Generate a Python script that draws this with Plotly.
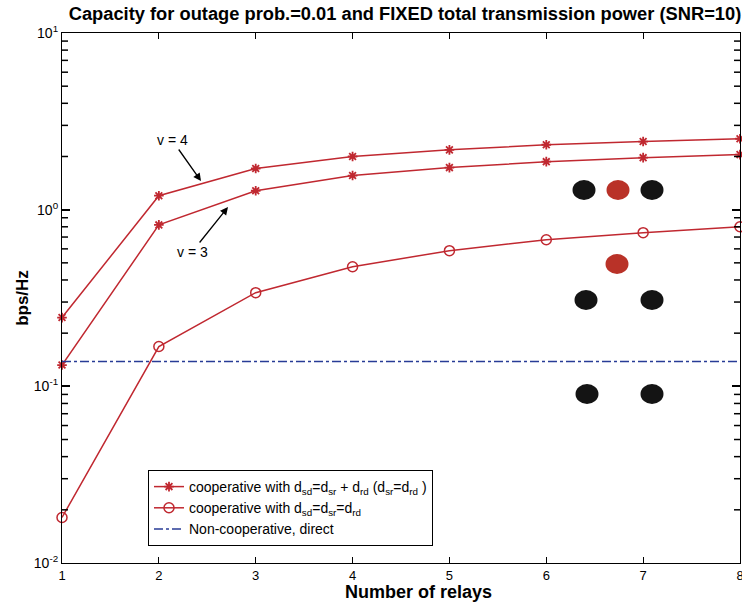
import math
import plotly.graph_objects as go

relays = [1, 2, 3, 4, 5, 6, 7, 8]
coop_v4 = [0.245, 1.20, 1.71, 2.00, 2.18, 2.33, 2.43, 2.52]
coop_v3 = [0.132, 0.82, 1.28, 1.56, 1.73, 1.87, 1.97, 2.05]
coop_equal = [0.0181, 0.168, 0.339, 0.475, 0.586, 0.676, 0.741, 0.80]
direct = [0.138] * 8

y_tickvals = [0.01, 0.1, 1, 10]
y_ticktext = ["10<sup>-2</sup>", "10<sup>-1</sup>", "10<sup>0</sup>", "10<sup>1</sup>"]
y_minor = [m * 10.0 ** e for e in (-2, -1, 0) for m in range(2, 10)]

RED = "rgb(192,40,48)"
BLUE = "rgb(40,60,150)"
FONT = "Liberation Sans, Arial, Helvetica, sans-serif"

fig = go.Figure()
fig.add_trace(go.Scatter(
    x=relays, y=coop_v4, mode="lines+markers",
    line=dict(color=RED, width=1.5),
    marker=dict(symbol="asterisk-open", size=8, color=RED, line=dict(color=RED, width=1.8)),
    name="cooperative with d<sub>sd</sub>=d<sub>sr</sub> + d<sub>rd</sub> (d<sub>sr</sub>=d<sub>rd</sub> )",
    cliponaxis=False,
))
fig.add_trace(go.Scatter(
    x=relays, y=coop_v3, mode="lines+markers",
    line=dict(color=RED, width=1.5),
    marker=dict(symbol="asterisk-open", size=8, color=RED, line=dict(color=RED, width=1.8)),
    showlegend=False, cliponaxis=False,
))
fig.add_trace(go.Scatter(
    x=relays, y=coop_equal, mode="lines+markers",
    line=dict(color=RED, width=1.5),
    marker=dict(symbol="circle-open", size=10, color=RED, line=dict(color=RED, width=1.5)),
    name="cooperative with d<sub>sd</sub>=d<sub>sr</sub>=d<sub>rd</sub>",
    cliponaxis=False,
))
fig.add_trace(go.Scatter(
    x=relays, y=direct, mode="lines",
    line=dict(color=BLUE, width=1.5, dash="dashdot"),
    name="Non-cooperative, direct",
))

# plot area in pixels: x 62..740, y 33..563
L, R, T, B = 62, 740, 33, 563
W, H = R - L, B - T
def px(x):
    return (x - L) / W
def py(y):
    return (B - y) / H

shapes = []
# minor ticks of the log axis, on both vertical sides (inside)
TL = 6.0
for v in y_minor:
    yp = (math.log10(v) + 2) / 3
    for x0, x1 in ((0.0, TL / W), (1.0 - TL / W, 1.0)):
        shapes.append(dict(type="line", xref="paper", yref="paper", x0=x0, x1=x1,
                           y0=yp, y1=yp, layer="above",
                           line=dict(color="black", width=1.5)))

# decorative node icons
nodes = [
    (584, 190, "rgb(20,20,20)"), (618, 190, "rgb(185,50,40)"), (652, 190, "rgb(20,20,20)"),
    (617, 264, "rgb(185,50,40)"),
    (586, 300, "rgb(20,20,20)"), (652, 300, "rgb(20,20,20)"),
    (587, 394, "rgb(20,20,20)"), (652, 394, "rgb(20,20,20)"),
]
for cx, cy, col in nodes:
    shapes.append(dict(type="circle", xref="paper", yref="paper",
                       x0=px(cx - 11.5), x1=px(cx + 11.5), y0=py(cy + 10), y1=py(cy - 10),
                       fillcolor=col, line=dict(width=0), layer="above"))

annotations = [
    dict(text="v = 4", xref="paper", yref="paper", x=px(201), y=py(181),
         ax=172 - 201, ay=140 - 181, showarrow=True, arrowhead=2, arrowsize=1.2,
         arrowwidth=1.3, arrowcolor="black", font=dict(size=14, color="black", family=FONT)),
    dict(text="v = 3", xref="paper", yref="paper", x=px(228), y=py(207),
         ax=192 - 228, ay=252 - 207, showarrow=True, arrowhead=2, arrowsize=1.2,
         arrowwidth=1.3, arrowcolor="black", font=dict(size=14, color="black", family=FONT)),
    dict(text="<b>Number of relays</b>", xref="paper", yref="paper", x=px(418), y=py(592),
         showarrow=False, yanchor="middle", font=dict(size=18, color="black", family=FONT)),
]

fig.update_layout(
    width=742, height=604,
    margin=dict(l=L, r=742 - R, t=T, b=604 - B, autoexpand=False),
    paper_bgcolor="white", plot_bgcolor="white",
    font=dict(family=FONT, color="black", size=13),
    title=dict(text="<b>Capacity for outage prob.=0.01 and FIXED total transmission power (SNR=10)</b>",
               x=405 / 742, xanchor="center", y=1 - 14 / 604, yanchor="middle",
               font=dict(size=18.3, family=FONT)),
    showlegend=True,
    legend=dict(x=px(148), y=py(470), xanchor="left", yanchor="top",
                bgcolor="white", bordercolor="black", borderwidth=1,
                font=dict(size=14, family=FONT), tracegroupgap=0),
    shapes=shapes,
    annotations=annotations,
)
fig.update_xaxes(
    range=[1, 8], tickvals=relays, ticks="inside", ticklen=6, tickwidth=1.2, tickcolor="black",
    showline=True, linecolor="black", linewidth=1.2, mirror="ticks",
    showgrid=False, zeroline=False, tickfont=dict(size=13, color="black"),
    ticklabeloverflow="allow", automargin=False,
)
fig.update_yaxes(
    type="log", range=[-2, 1], tickvals=y_tickvals, ticktext=y_ticktext,
    ticks="inside", ticklen=8, tickwidth=1.5, tickcolor="black",
    showline=True, linecolor="black", linewidth=1.2, mirror="ticks",
    showgrid=False, zeroline=False, tickfont=dict(size=14, color="black"),
    title=dict(text="<b>bps/Hz</b>", font=dict(size=17), standoff=0),
    automargin=False,
)

fig.write_html("out.html")
